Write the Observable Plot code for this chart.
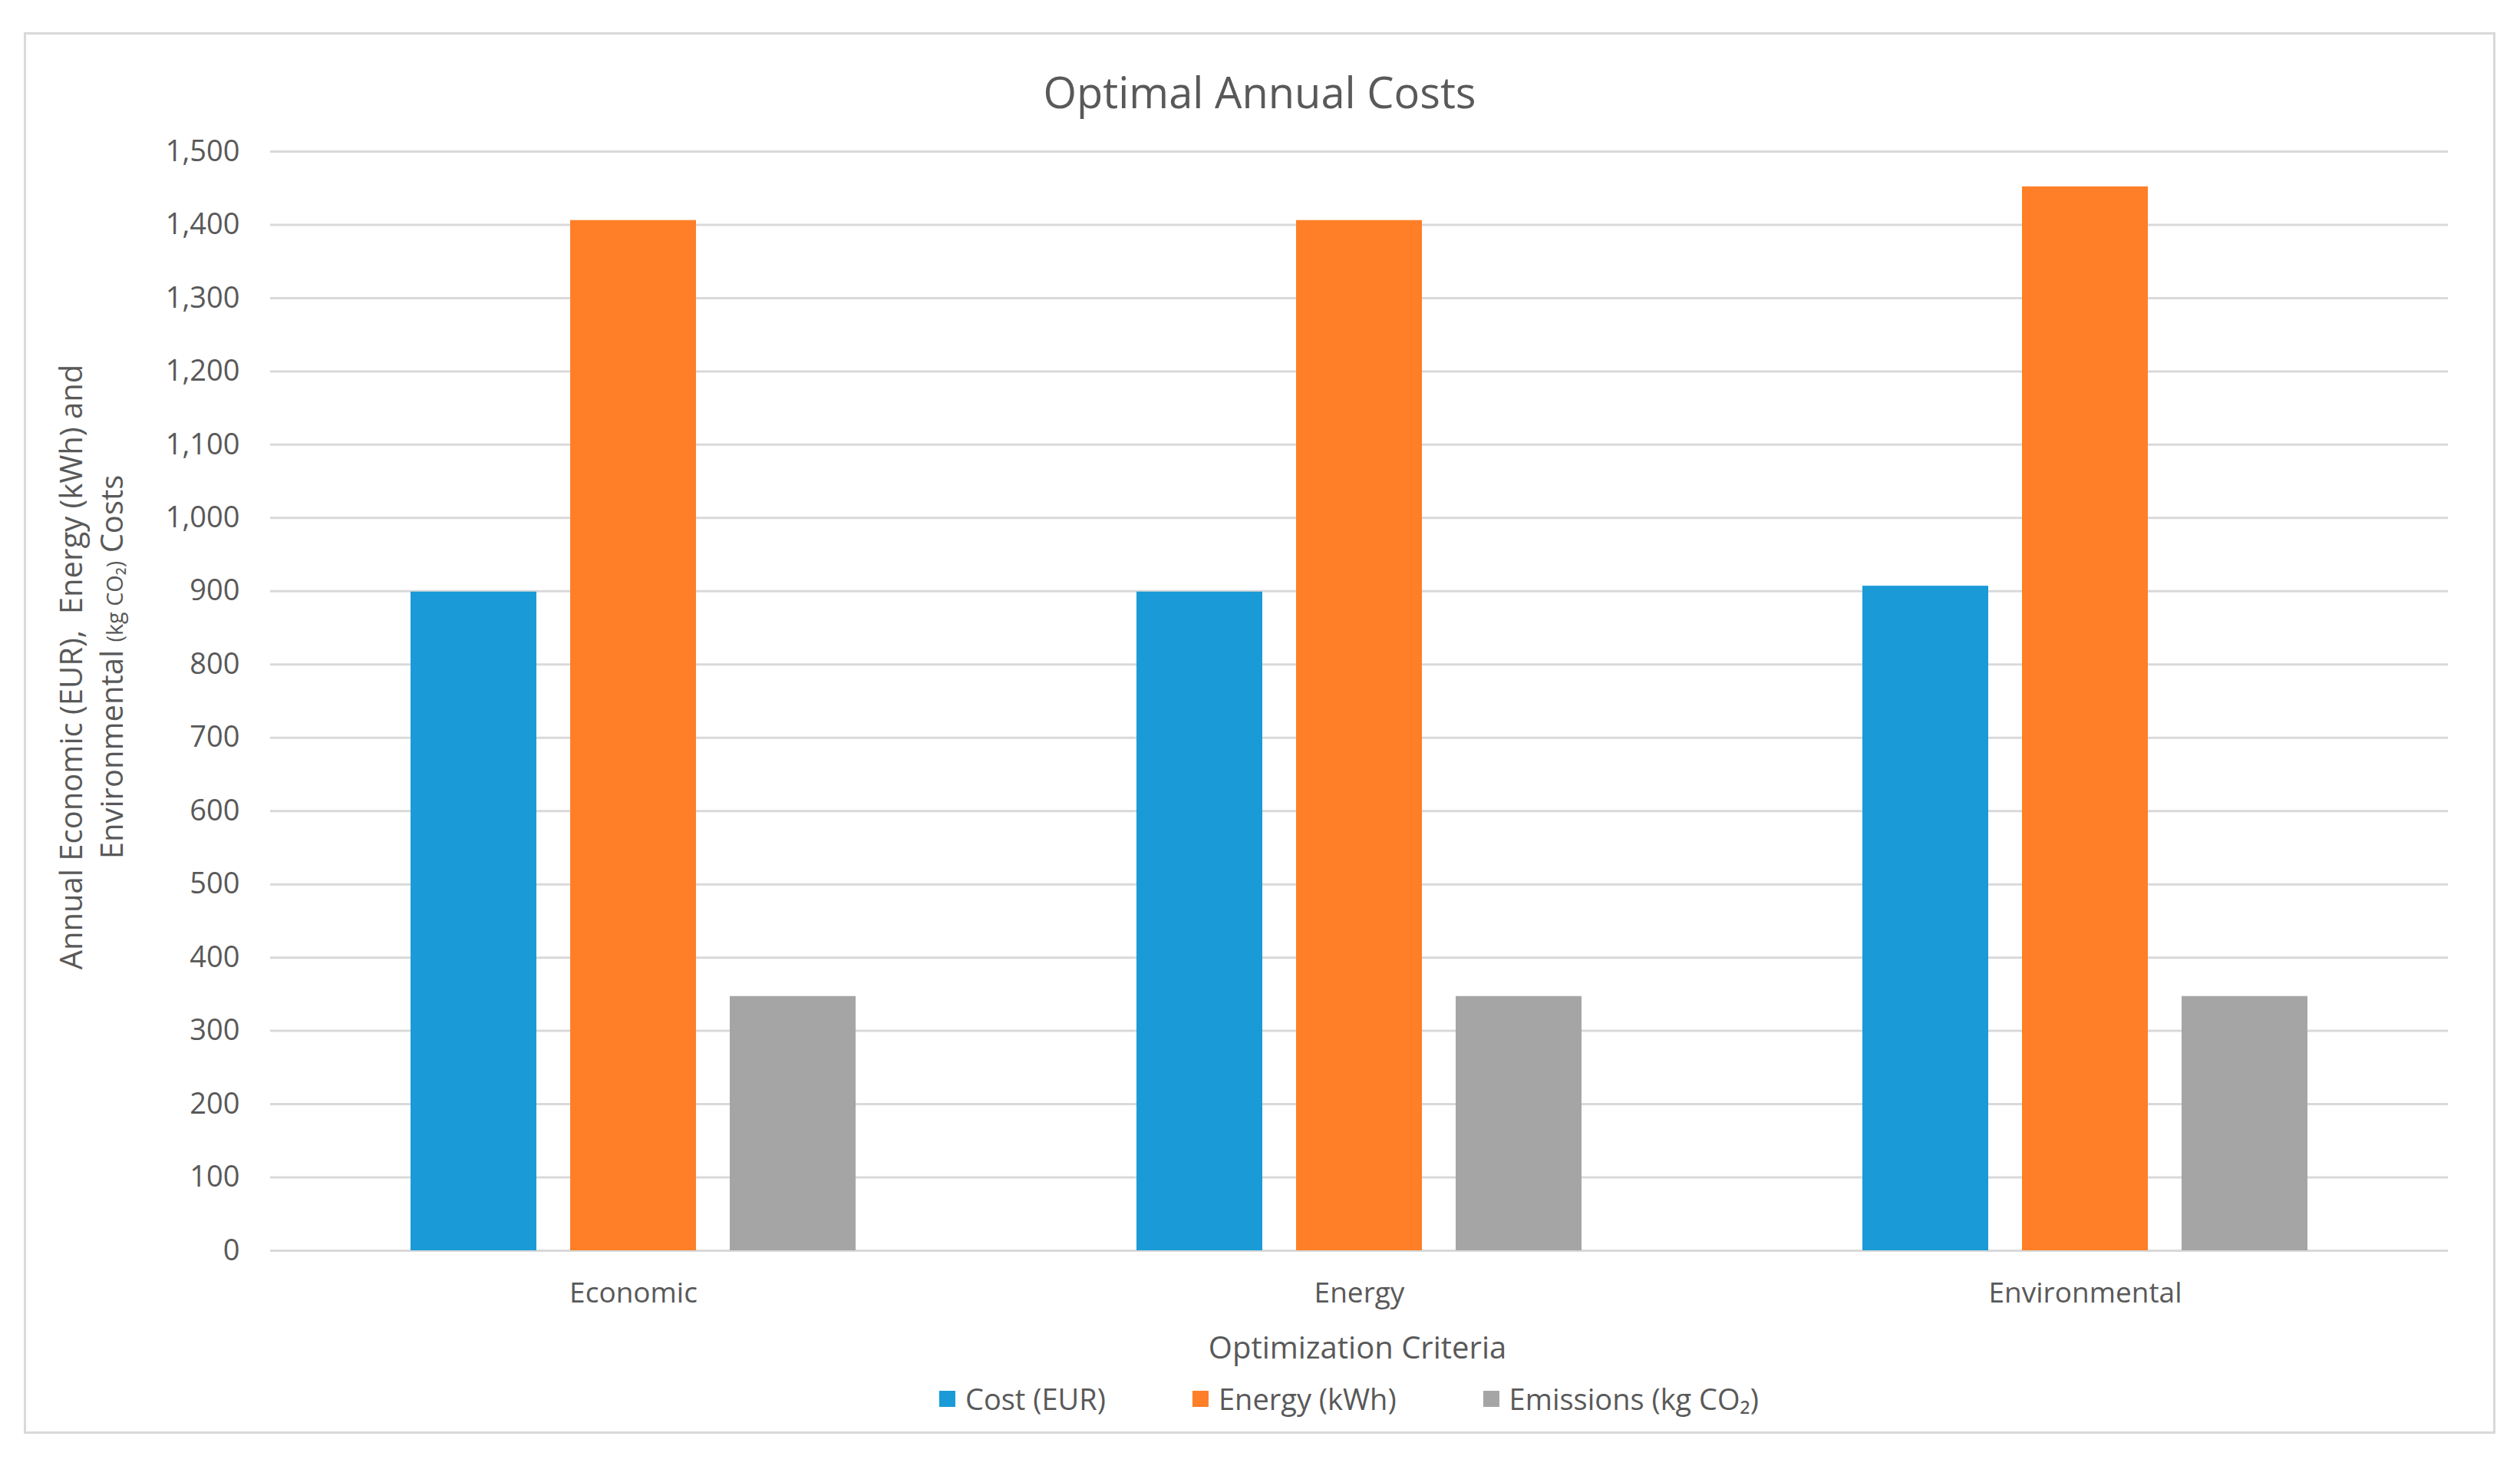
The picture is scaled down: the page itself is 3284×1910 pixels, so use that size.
<!DOCTYPE html>
<html>
<head>
<meta charset="utf-8">
<script src="https://cdn.jsdelivr.net/npm/d3@7"></script>
<script src="https://cdn.jsdelivr.net/npm/@observablehq/plot@0.6"></script>
<style>
  html, body { margin: 0; padding: 0; background: #ffffff; }
  body { width: 3284px; height: 1910px; position: relative; font-family: "Open Sans", sans-serif; color: #595959; }
  #frame { position: absolute; left: 31px; top: 42px; width: 3221px; height: 1826px; border: 3px solid #d9d9d9; box-sizing: border-box; }
  #title { position: absolute; left: 31px; width: 3221px; top: 119px; transform: translateY(-50%); text-align: center; font-size: 56px; line-height: 1; color: #595959; white-space: nowrap; }
  #chart { position: absolute; left: 33px; top: 160px; }
  #ylabel { position: absolute; left: 120px; top: 869px; transform: translate(-50%, -50%) rotate(-90deg); text-align: center; font-size: 40px; line-height: 53px; white-space: nowrap; color: #595959; }
  #xlabel { position: absolute; left: 1769px; top: 1755px; transform: translate(-50%, -50%); font-size: 40px; line-height: 1; white-space: nowrap; color: #595959; }
  #legend { position: absolute; left: 1758px; top: 1822px; transform: translate(-50%, -50%); display: flex; align-items: center; gap: 113px; font-size: 38px; line-height: 1; white-space: nowrap; color: #595959; }
  .item { display: flex; align-items: center; gap: 13px; }
  .sw { width: 21px; height: 21px; display: inline-block; }
  .sub { font-size: 0.72em; }
</style>
</head>
<body>
<div id="frame"></div>
<div id="title">Optimal Annual Costs</div>
<div id="ylabel">Annual Economic (EUR),&nbsp; Energy (kWh) and<br>Environmental <span class="sub">(kg CO₂)</span> Costs</div>
<div id="chart"></div>
<div id="xlabel">Optimization Criteria</div>
<div id="legend"></div>
<script>
// Categories (optimization criteria)
const categories = ["Economic", "Energy", "Environmental"];
// Series names
const seriesNames = ["Cost (EUR)", "Energy (kWh)", "Emissions (kg CO₂)"];
// Series values, one per category
const costEUR = [899, 899, 907];
const energyKWh = [1406, 1406, 1452];
const emissionsKgCO2 = [347, 347, 347];
// Y tick labels
const yTicks = [0, 100, 200, 300, 400, 500, 600, 700, 800, 900, 1000, 1100, 1200, 1300, 1400, 1500];
// Colours
const seriesColors = ["#1a9bd7", "#fe7f27", "#a5a5a5"];

const seriesValues = [costEUR, energyKWh, emissionsKgCO2];
const data = categories.flatMap((c, i) =>
  seriesNames.map((s, j) => ({ criterion: c, series: s, value: seriesValues[j][i] }))
);
const fmt = d3.format(",");

const chart = Plot.plot({
  width: 3217,
  height: 1560,
  marginLeft: 319,
  marginRight: 60,
  marginTop: 37,
  marginBottom: 91,
  style: { fontFamily: "Open Sans, sans-serif", fontSize: "38px", color: "#595959", background: "transparent" },
  fx: { domain: categories, padding: 0, label: null },
  x: { domain: seriesNames, paddingInner: 0.21, paddingOuter: 0.87, axis: null },
  y: { domain: [0, 1500], label: null },
  color: { domain: seriesNames, range: seriesColors },
  marks: [
    Plot.gridY(yTicks, { stroke: "#d9d9d9", strokeOpacity: 1, strokeWidth: 3 }),
    Plot.barY(data, { fx: "criterion", x: "series", y: "value", fill: "series" }),
    Plot.axisY(yTicks, { tickSize: 0, tickPadding: 40, tickFormat: (d) => fmt(d), label: null, fontSize: 38 }),
    Plot.axisFx({ anchor: "bottom", tickSize: 0, tickPadding: 41, label: null, fontSize: 37 })
  ]
});
document.getElementById("chart").appendChild(chart);

const legend = document.getElementById("legend");
seriesNames.forEach((s, i) => {
  const item = document.createElement("div");
  item.className = "item";
  const sw = document.createElement("span");
  sw.className = "sw";
  sw.style.background = seriesColors[i];
  const label = document.createElement("span");
  label.textContent = s;
  item.appendChild(sw);
  item.appendChild(label);
  legend.appendChild(item);
});
</script>
</body>
</html>
